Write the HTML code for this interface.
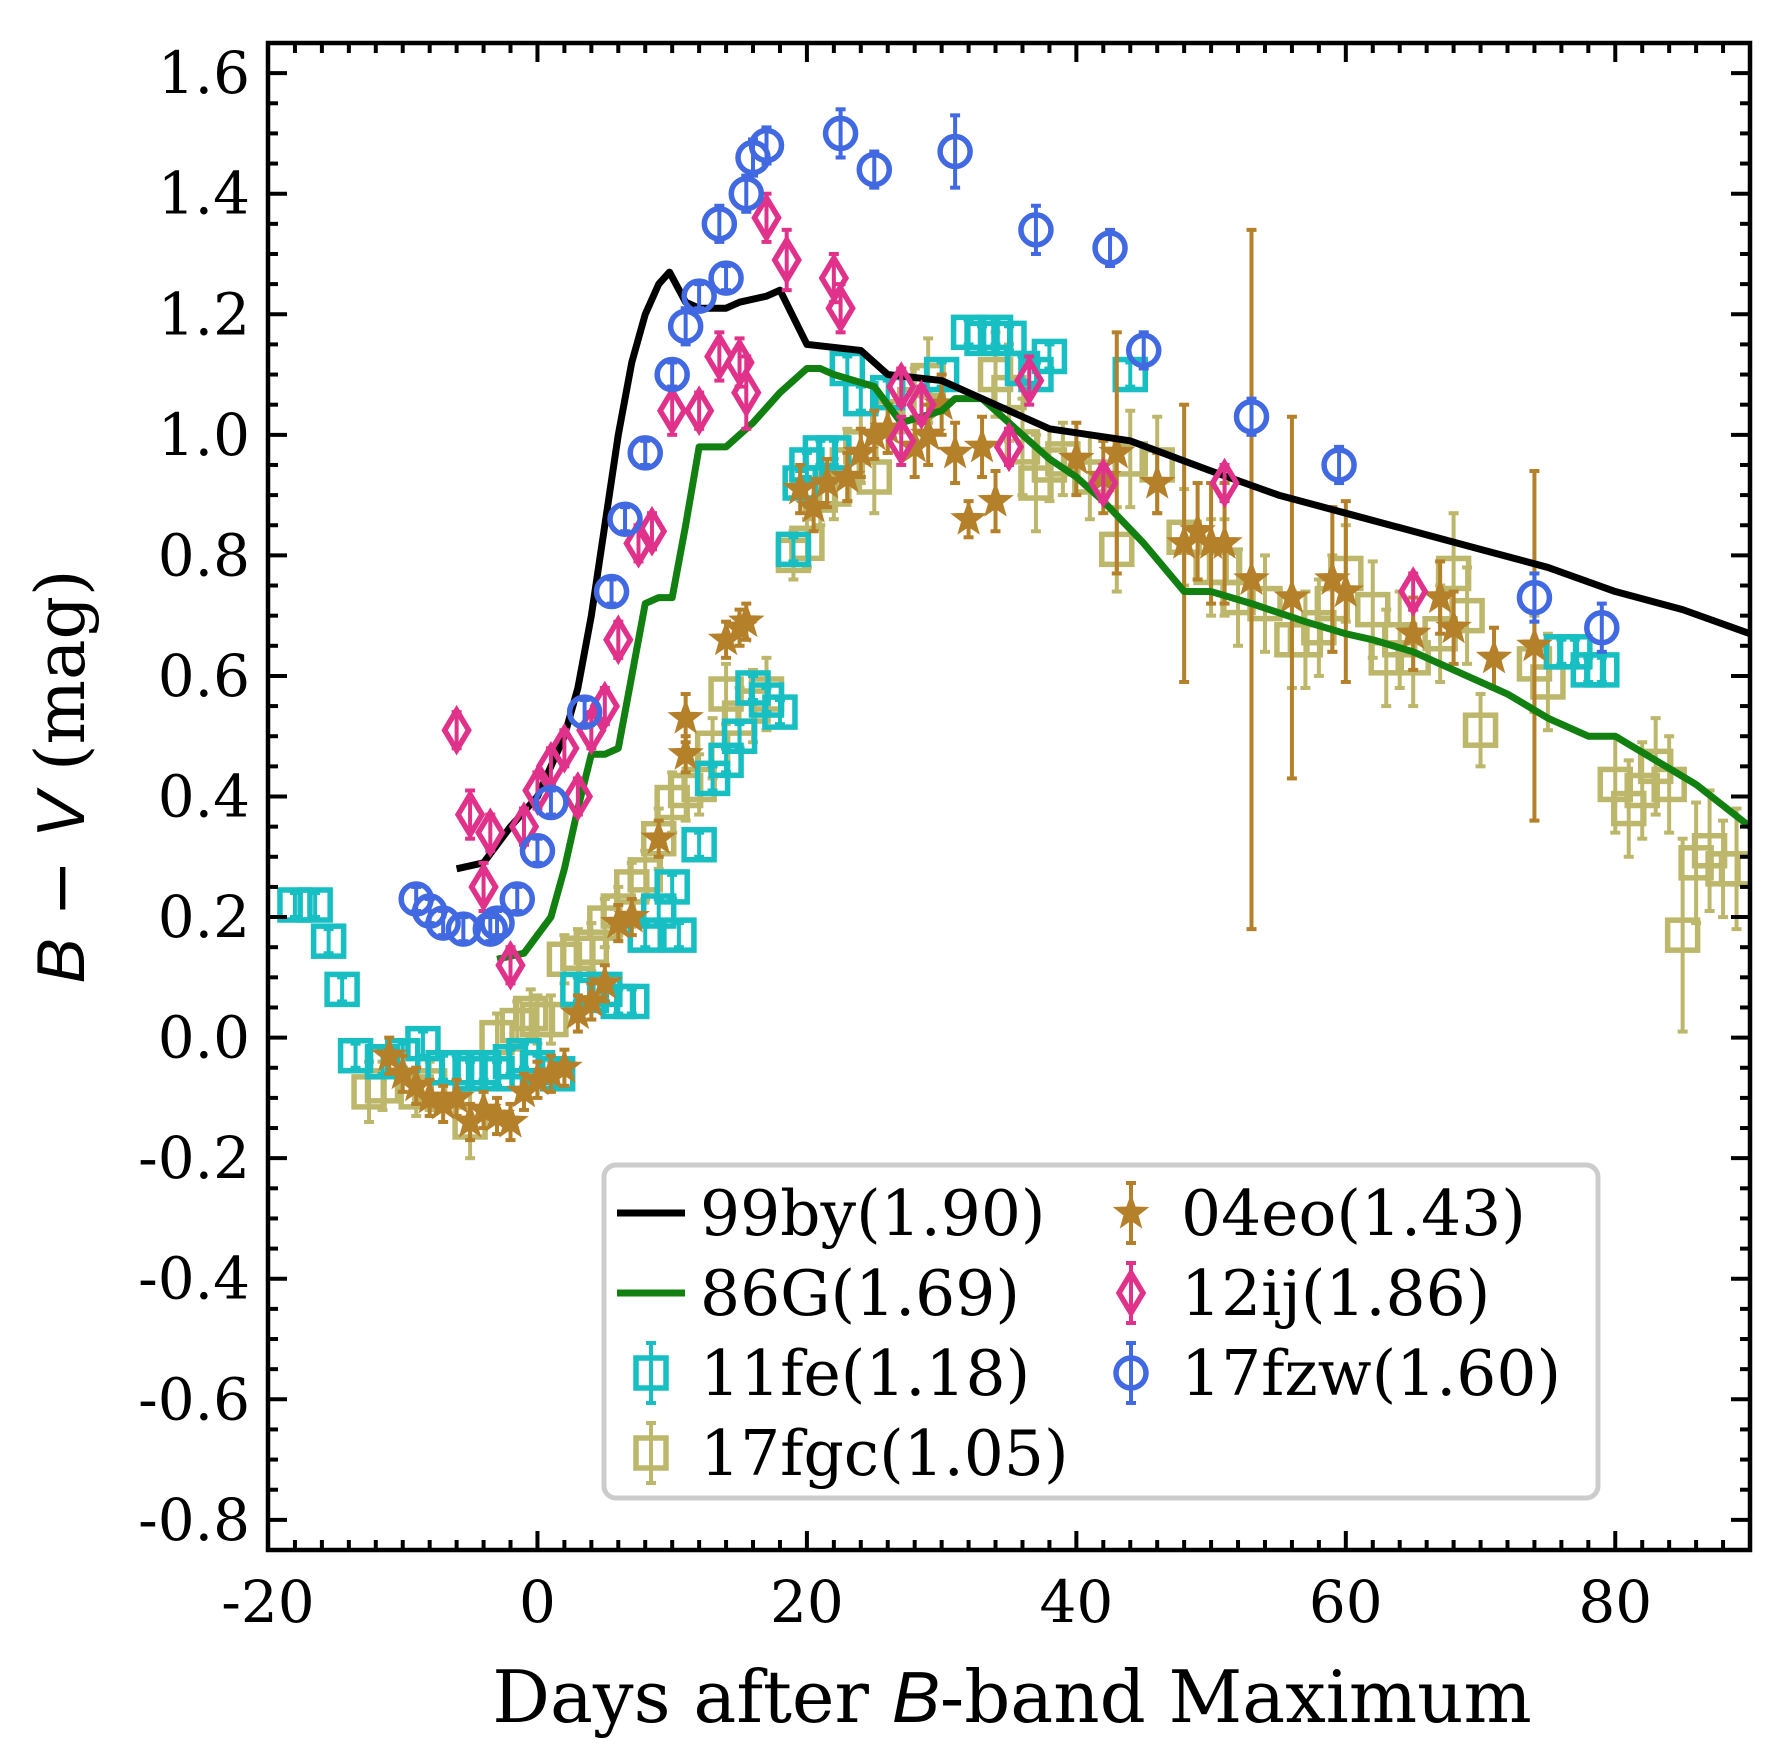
<!DOCTYPE html>
<html><head><meta charset="utf-8"><style>
html,body{margin:0;padding:0;background:#fff}
svg{display:block}
text{font-family:"DejaVu Serif","Liberation Serif",serif}
</style></head><body>
<svg id="chart" width="1791" height="1748" viewBox="0 0 1791 1748" xmlns="http://www.w3.org/2000/svg"></svg>
<script>
const xTicks=[-20,0,20,40,60,80];
const yTicks=[-0.8,-0.6,-0.4,-0.2,0.0,0.2,0.4,0.6,0.8,1.0,1.2,1.4,1.6];
const by99X=[-6,-4,-2,0,2,3,4,5,6,7,8,9,9.8,11,12,14,15,17,18,20,24,26,30,34,38,44,50,55,60,65,70,75,80,85,90];
const by99Y=[0.28,0.29,0.35,0.40,0.50,0.58,0.70,0.85,1.00,1.12,1.20,1.25,1.27,1.22,1.21,1.21,1.22,1.23,1.24,1.15,1.14,1.10,1.09,1.05,1.01,0.99,0.94,0.90,0.87,0.84,0.81,0.78,0.74,0.71,0.67];
const g86X=[-3,-1,0,1,2,3,4,5,6,7,8,9,10,11,12,13,14,16,18,20,21,22,25,27,30,31,33,35,38,40,42,45,48,50,53,57,60,62,65,68,72,75,78,80,83,86,90];
const g86Y=[0.13,0.14,0.17,0.20,0.28,0.38,0.47,0.47,0.48,0.60,0.72,0.73,0.73,0.85,0.98,0.98,0.98,1.02,1.07,1.11,1.11,1.10,1.08,1.02,1.04,1.06,1.06,1.02,0.96,0.93,0.89,0.82,0.74,0.74,0.72,0.69,0.67,0.66,0.64,0.61,0.57,0.53,0.50,0.50,0.46,0.42,0.35];
const fzwX=[-9,-8,-7,-5.5,-3.5,-3,-1.5,0,1,3.5,5.5,6.5,8,10,11,12,13.5,14,15.5,16,17,22.5,25,31,37,42.5,45,53,59.5,74,79];
const fzwY=[0.23,0.21,0.19,0.18,0.18,0.19,0.23,0.31,0.39,0.54,0.74,0.86,0.97,1.10,1.18,1.23,1.35,1.26,1.40,1.46,1.48,1.50,1.44,1.47,1.34,1.31,1.14,1.03,0.95,0.73,0.68];
const fzwE=[0.02,0.02,0.02,0.02,0.02,0.02,0.02,0.02,0.02,0.02,0.02,0.02,0.02,0.02,0.03,0.02,0.03,0.02,0.03,0.03,0.03,0.04,0.03,0.06,0.04,0.03,0.03,0.03,0.03,0.04,0.04];
const ijX=[-6,-5,-4,-3.5,-2,-1,0,1,2,3,4,5,6,7.5,8.5,10,12,13.5,15,15.5,17,18.5,22,22.5,27,27,28.5,35,36.5,42,51,65];
const ijY=[0.51,0.37,0.25,0.34,0.12,0.35,0.41,0.45,0.48,0.40,0.51,0.55,0.66,0.82,0.84,1.04,1.04,1.13,1.12,1.07,1.36,1.29,1.26,1.21,1.08,0.99,1.05,0.98,1.09,0.92,0.92,0.74];
const ijE=[0.03,0.04,0.04,0.03,0.03,0.03,0.03,0.03,0.03,0.03,0.03,0.03,0.03,0.03,0.03,0.04,0.03,0.04,0.04,0.06,0.04,0.05,0.04,0.04,0.03,0.04,0.03,0.03,0.04,0.03,0.03,0.03];
const feX=[-18,-16.5,-15.5,-14.5,-13.5,-11.5,-10,-8.5,-7,-6,-5,-4,-3,-2,-1,0,1.5,3,4,5,6,7,8,9,10,10.5,12,13,14,15,16,17,18,19,19.5,20,21,22,23,24,26,30,32,33,34,35,36,37,38,44,76,77,78,79];
const feY=[0.22,0.22,0.16,0.08,-0.03,-0.04,-0.03,-0.01,-0.05,-0.05,-0.06,-0.05,-0.06,-0.04,-0.03,-0.05,-0.06,0.08,0.07,0.08,0.06,0.06,0.17,0.21,0.25,0.17,0.32,0.43,0.46,0.50,0.58,0.56,0.54,0.81,0.92,0.95,0.97,0.97,1.11,1.06,1.07,1.10,1.17,1.16,1.17,1.16,1.11,1.10,1.13,1.10,0.64,0.64,0.61,0.61];
const fgcX=[-12.5,-11.5,-9,-8,-5,-3,-1.5,-0.5,0,1,2,3,4,5,6,7,8,9,10,11,12,13,14,15,16,17,19,20,21,22,23,24,25,26,28,29,34,35,36,37,38,39,41,43,44,46,48,50,51,52,54,56,57,58,59,60,62,63,64,65,67,68,69,70,74,75,80,81,82,83,84,85,86,87,88,89];
const fgcY=[-0.09,-0.08,-0.09,-0.08,-0.14,0.0,0.02,0.04,0.03,0.03,0.13,0.14,0.15,0.19,0.21,0.25,0.27,0.33,0.39,0.41,0.42,0.48,0.57,0.53,0.55,0.57,0.80,0.82,0.90,0.91,0.95,0.98,0.93,1.03,1.05,1.09,1.10,1.07,0.98,0.92,0.95,0.96,0.93,0.81,0.96,0.95,0.83,0.78,0.78,0.73,0.72,0.66,0.66,0.68,0.72,0.77,0.71,0.63,0.66,0.63,0.67,0.77,0.70,0.51,0.62,0.59,0.42,0.38,0.41,0.45,0.42,0.17,0.29,0.31,0.28,0.28];
const fgcE=[0.05,0.04,0.04,0.04,0.06,0.04,0.04,0.04,0.04,0.04,0.04,0.04,0.04,0.04,0.04,0.04,0.04,0.05,0.05,0.05,0.05,0.05,0.05,0.05,0.06,0.06,0.04,0.04,0.05,0.05,0.06,0.06,0.06,0.06,0.06,0.07,0.07,0.08,0.08,0.08,0.06,0.06,0.07,0.07,0.08,0.08,0.08,0.08,0.08,0.08,0.08,0.08,0.08,0.08,0.08,0.08,0.08,0.08,0.08,0.08,0.08,0.1,0.08,0.06,0.08,0.08,0.08,0.08,0.08,0.08,0.08,0.16,0.1,0.1,0.08,0.1];
const eoX=[-11,-10,-9,-8,-7,-6,-5,-4,-3,-2,-1,0,1,2,3,4,5,6,7,9,11,11,14,15,15.5,19.5,20.5,21.5,23,24,25,26,28,29,30,31,32,33,34,40,42,43,46,48,49,50,51,53,56,59,60,65,67,68,71,74];
const eoY=[-0.03,-0.06,-0.08,-0.10,-0.11,-0.10,-0.14,-0.12,-0.13,-0.14,-0.09,-0.07,-0.06,-0.05,0.04,0.06,0.09,0.19,0.20,0.33,0.47,0.53,0.66,0.68,0.69,0.91,0.88,0.92,0.93,0.97,1.00,1.01,0.98,1.00,1.05,0.97,0.86,0.98,0.89,0.96,0.93,0.97,0.92,0.82,0.84,0.82,0.82,0.76,0.73,0.76,0.74,0.67,0.73,0.68,0.63,0.65];
const eoE=[0.03,0.03,0.03,0.03,0.03,0.03,0.03,0.03,0.03,0.03,0.03,0.03,0.03,0.03,0.03,0.03,0.03,0.03,0.03,0.03,0.03,0.04,0.03,0.03,0.03,0.04,0.04,0.04,0.04,0.04,0.04,0.04,0.05,0.05,0.05,0.05,0.03,0.05,0.05,0.06,0.06,0.2,0.05,0.23,0.08,0.1,0.1,0.58,0.3,0.12,0.15,0.06,0.06,0.06,0.05,0.29];

const NS="http://www.w3.org/2000/svg";
const svg=document.getElementById('chart');
const L=268,R=1750,T=43,B=1550,XMIN=-20,XMAX=90,YMIN=-0.85,YMAX=1.65;
function sx(v){return L+(v-XMIN)/(XMAX-XMIN)*(R-L);}
function sy(v){return B-(v-YMIN)/(YMAX-YMIN)*(B-T);}
function mk(tag,attrs,parent){const e=document.createElementNS(NS,tag);for(const k in attrs)e.setAttribute(k,attrs[k]);(parent||svg).appendChild(e);return e;}
const clip=mk('clipPath',{id:'pc'});mk('rect',{x:L,y:T,width:R-L,height:B-T},clip);
const plot=mk('g',{'clip-path':'url(#pc)'});



function line(xs,ys,color,name){
  const p=mk('polyline',{points:xs.map((x,i)=>sx(x)+','+sy(ys[i])).join(' '),fill:'none',stroke:color,'stroke-width':7,'stroke-linejoin':'round'},plot);
  
  
}
function marker(g,shape,cx,cy,color){
  if(shape==='sq')mk('rect',{x:cx-15,y:cy-15,width:30,height:30,fill:'none',stroke:color,'stroke-width':5.5},g);
  else if(shape==='ci')mk('circle',{cx:cx,cy:cy,r:15,fill:'none',stroke:color,'stroke-width':5.5},g);
  else if(shape==='di')mk('polygon',{points:`${cx},${cy-20} ${cx+12},${cy} ${cx},${cy+20} ${cx-12},${cy}`,fill:'none',stroke:color,'stroke-width':5.5},g);
  else if(shape==='st'){let pts=[];for(let k=0;k<10;k++){const r=k%2?7:17,a=-Math.PI/2+k*Math.PI/5;pts.push((cx+r*Math.cos(a)).toFixed(1)+','+(cy+r*Math.sin(a)).toFixed(1));}mk('polygon',{points:pts.join(' '),fill:color,stroke:color,'stroke-width':1.5},g);}
}
function scatter(xs,ys,es,color,shape,name){
  const g=mk('g',{},plot);
  
  
  xs.forEach((x,i)=>{
    const cx=sx(x),cy=sy(ys[i]),e=es?es[i]:0.02;
    mk('line',{x1:cx,x2:cx,y1:sy(ys[i]-e),y2:sy(ys[i]+e),stroke:color,'stroke-width':4},g);
    mk('line',{x1:cx-5,x2:cx+5,y1:sy(ys[i]-e),y2:sy(ys[i]-e),stroke:color,'stroke-width':4},g);
    mk('line',{x1:cx-5,x2:cx+5,y1:sy(ys[i]+e),y2:sy(ys[i]+e),stroke:color,'stroke-width':4},g);
    marker(g,shape,cx,cy,color);
  });
}
const C={by:'#000000',g:'#118011',fe:'#17bfc3',fgc:'#bdb76b',eo:'#b5802a',ij:'#e0328a',fzw:'#4169e1'};
scatter(fgcX,fgcY,fgcE,C.fgc,'sq','series-17fgc');
scatter(feX,feY,null,C.fe,'sq','series-11fe');
scatter(eoX,eoY,eoE,C.eo,'st','series-04eo');
line(g86X,g86Y,C.g,'line-86G');
line(by99X,by99Y,C.by,'line-99by');
scatter(ijX,ijY,ijE,C.ij,'di','series-12ij');
scatter(fzwX,fzwY,fzwE,C.fzw,'ci','series-17fzw');

const fr=mk('rect',{x:L,y:T,width:R-L,height:B-T,fill:'none',stroke:'#000','stroke-width':4.5});


const ax=mk('g',{});


for(let v=-20;v<=90;v+=2){const x=sx(v),maj=(v%20===0),len=maj?19:10;
  mk('line',{x1:x,x2:x,y1:B,y2:B-len,stroke:'#000','stroke-width':4},ax);
  mk('line',{x1:x,x2:x,y1:T,y2:T+len,stroke:'#000','stroke-width':4},ax);}
for(let k=-17;k<=33;k++){const v=k*0.05,y=sy(v),maj=(k%4===0),len=maj?19:10;
  mk('line',{x1:L,x2:L+len,y1:y,y2:y,stroke:'#000','stroke-width':4},ax);
  mk('line',{x1:R,x2:R-len,y1:y,y2:y,stroke:'#000','stroke-width':4},ax);}
xTicks.forEach(v=>{const t=mk('text',{x:sx(v),y:B+72,'text-anchor':'middle','font-size':58},ax);t.textContent=String(v);
  
  });
yTicks.forEach(v=>{const t=mk('text',{x:L-18,y:sy(v)+20,'text-anchor':'end','font-size':58},ax);t.textContent=v.toFixed(1);
  
  });
const xl=mk('text',{x:(L+R)/2+3,y:1722,'text-anchor':'middle','font-size':72});
xl.innerHTML='Days after <tspan font-style="italic" font-family="Liberation Sans, sans-serif">B</tspan>-band Maximum';


const yl=mk('text',{transform:`translate(84,${(T+B)/2-20}) rotate(-90)`,'text-anchor':'middle','font-size':68});
yl.innerHTML='<tspan font-style="italic" font-family="Liberation Sans, sans-serif">B</tspan> − <tspan font-style="italic" font-family="Liberation Sans, sans-serif">V</tspan> (mag)';



const lg=mk('g',{});


mk('rect',{x:604,y:1165,width:994,height:333,rx:12,fill:'#fff',stroke:'#cccccc','stroke-width':5},lg);
const entries=[
 ['99by(1.90)',C.by,'line',0,0],['86G(1.69)',C.g,'line',0,1],['11fe(1.18)',C.fe,'sq',0,2],['17fgc(1.05)',C.fgc,'sq',0,3],
 ['04eo(1.43)',C.eo,'st',1,0],['12ij(1.86)',C.ij,'di',1,1],['17fzw(1.60)',C.fzw,'ci',1,2]];
entries.forEach(([lab,col,shape,c,r])=>{
  const g=mk('g',{},lg);
  
  
  const y=1213+r*80,hx=c?1131:651;
  if(shape==='line')mk('line',{x1:hx-34,x2:hx+34,y1:y,y2:y,stroke:col,'stroke-width':7},g);
  else{mk('line',{x1:hx,x2:hx,y1:y-30,y2:y+30,stroke:col,'stroke-width':4},g);
    mk('line',{x1:hx-5,x2:hx+5,y1:y-30,y2:y-30,stroke:col,'stroke-width':4},g);
    mk('line',{x1:hx-5,x2:hx+5,y1:y+30,y2:y+30,stroke:col,'stroke-width':4},g);
    marker(g,shape,hx,y,col);}
  const t=mk('text',{x:c?1181:700,y:y+22,'font-size':63},g);t.textContent=lab;
});
</script>
</body></html>
